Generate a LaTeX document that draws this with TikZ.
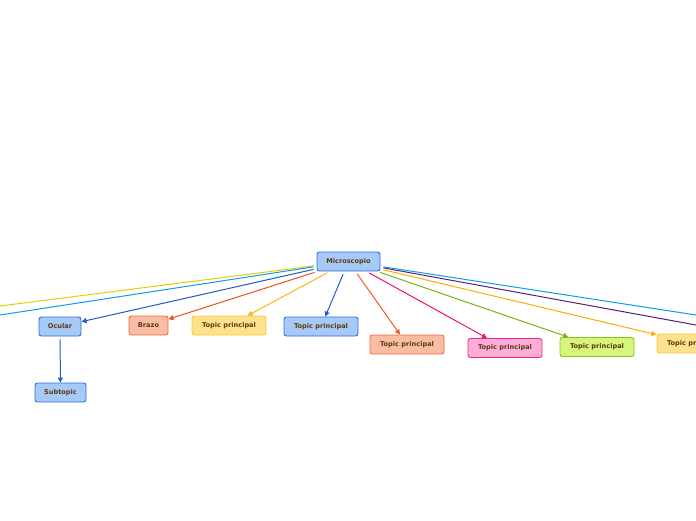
\documentclass[tikz,border=0pt]{standalone}
\usepackage{fontspec}
\setmainfont{DejaVu Sans}
\usetikzlibrary{arrows.meta}
\definecolor{txt}{HTML}{5C3A10}
\definecolor{bfill}{HTML}{A7C9F7}\definecolor{bdraw}{HTML}{2A6FDB}
\definecolor{sfill}{HTML}{F9BCA5}\definecolor{sdraw}{HTML}{F26A3D}
\definecolor{yfill}{HTML}{FFE08C}\definecolor{ydraw}{HTML}{FFC533}
\definecolor{pfill}{HTML}{FFACD8}\definecolor{pdraw}{HTML}{F0288C}
\definecolor{gfill}{HTML}{D7F57C}\definecolor{gdraw}{HTML}{8CC21E}
\definecolor{cgold}{HTML}{E6CC00}\definecolor{ccyan}{HTML}{0AA0E6}
\definecolor{cblue}{HTML}{1E5AC8}\definecolor{cred}{HTML}{F0501E}
\definecolor{cyel}{HTML}{FFB414}\definecolor{cblue2}{HTML}{1464D2}
\definecolor{csal}{HTML}{F05A28}\definecolor{cpink}{HTML}{F0146E}
\definecolor{cgreen}{HTML}{78B414}\definecolor{corange}{HTML}{FFAA00}
\definecolor{cpurple}{HTML}{5A1E78}
\tikzset{
  box/.style={draw, rounded corners=2.5pt, line width=0.9pt, text=txt,
    font=\fontsize{6.6}{7.5}\selectfont\bfseries, inner sep=0pt, minimum height=19pt, align=center},
  bluebox/.style={box, fill=bfill, draw=bdraw},
  salbox/.style={box, fill=sfill, draw=sdraw},
  yelbox/.style={box, fill=yfill, draw=ydraw},
  pinkbox/.style={box, fill=pfill, draw=pdraw},
  greenbox/.style={box, fill=gfill, draw=gdraw},
  conn/.style={line width=1pt, shorten <=3pt},
  arr/.style={conn, -{Triangle[length=5pt,width=5pt]}},
}
\begin{document}
\begin{tikzpicture}[x=1pt,y=-1pt]
\useasboundingbox (0,0) rectangle (696,520);
\node[bluebox, minimum width=63pt] (m) at (348.5,261.5) {Microscopio};
\node[bluebox, minimum width=42pt] (ocular) at (60,326.5) {Ocular};
\node[bluebox, minimum width=51pt] (sub) at (60.5,392.5) {Subtopic};
\node[salbox, minimum width=39pt] (brazo) at (148.5,325.5) {Brazo};
\node[yelbox, minimum width=74pt] (t1) at (229,325.5) {Topic principal};
\node[bluebox, minimum width=74pt] (t2) at (321,326.5) {Topic principal};
\node[salbox, minimum width=74pt] (t3) at (407,344.5) {Topic principal};
\node[pinkbox, minimum width=74pt] (t4) at (505,348) {Topic principal};
\node[greenbox, minimum width=74pt] (t5) at (597,347) {Topic principal};
\node[yelbox, minimum width=74pt] (t6) at (694,343.5) {Topic principal};
\coordinate (l1) at (0,306);
\coordinate (l2) at (0,315);
\coordinate (r1) at (696,325);
\coordinate (r2) at (696,315);
\draw[conn, cgold] (m) -- (l1);
\draw[conn, ccyan] (m) -- (l2);
\draw[arr, cblue] (m) -- (ocular);
\draw[arr, cred] (m) -- (brazo);
\draw[arr, cyel] (m) -- (t1);
\draw[arr, cblue2] (m) -- (t2);
\draw[arr, csal] (m) -- (t3);
\draw[arr, cpink] (m) -- (t4);
\draw[arr, cgreen] (m) -- (t5);
\draw[arr, corange] (m) -- (t6);
\draw[conn, cpurple] (m) -- (r1);
\draw[conn, ccyan] (m) -- (r2);
\draw[arr, cblue2] (ocular) -- (sub);
\end{tikzpicture}
\end{document}
